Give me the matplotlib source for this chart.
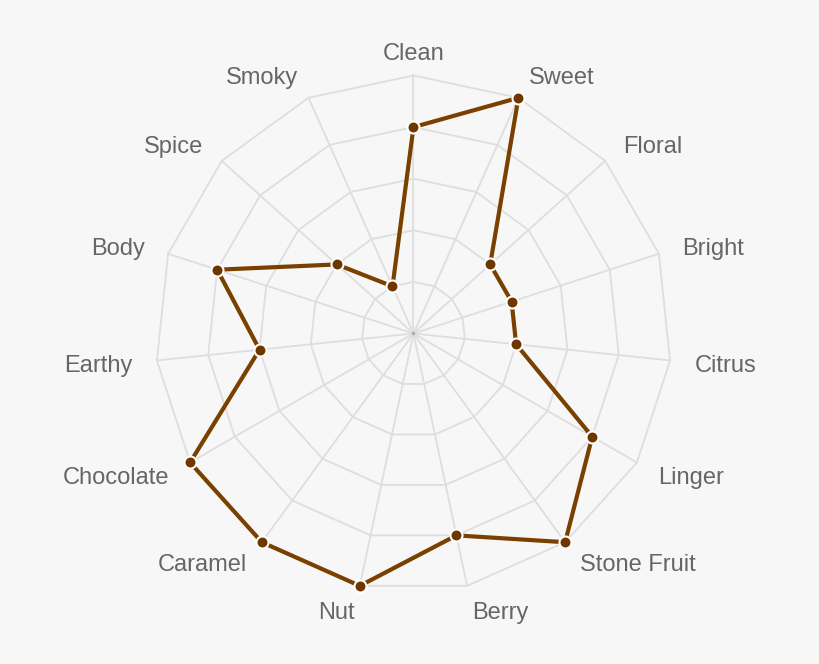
import numpy as np
import matplotlib
matplotlib.use("Agg")
import matplotlib.pyplot as plt
from matplotlib.transforms import offset_copy

categories = ["Clean", "Sweet", "Floral", "Bright", "Citrus", "Linger", "Stone Fruit",
              "Berry", "Nut", "Caramel", "Chocolate", "Earthy", "Body", "Spice", "Smoky"]
values = [4, 5, 2, 2, 2, 4, 5, 4, 5, 5, 5, 3, 4, 2, 1]
levels = [1, 2, 3, 4, 5]

bg = "#f7f7f7"
fig = plt.figure(figsize=(8.2, 6.64), dpi=100, facecolor=bg)
ax = fig.add_axes([0.1896, 0.1092, 0.6293, 0.7771], projection="polar")
ax.set_facecolor(bg)
ax.set_theta_zero_location("N")
ax.set_theta_direction(-1)

n = len(categories)
angles = np.linspace(0, 2 * np.pi, n, endpoint=False)
rmax = max(levels)

# polygon grid
grid_c = "#dedede"
for lv in levels:
    a = np.append(angles, angles[0])
    ax.plot(a, [lv] * (n + 1), color=grid_c, lw=1.3, zorder=1, clip_on=False)
for a in angles:
    ax.plot([a, a], [0, rmax], color=grid_c, lw=1.3, zorder=1, clip_on=False)
ax.scatter([0], [0], s=6, color="#aaaaaa", zorder=2, linewidth=0)

# data
a_closed = np.append(angles, angles[0])
v_closed = values + [values[0]]
ax.plot(a_closed, v_closed, color="#7a4000", lw=3, zorder=3, solid_joinstyle="miter",
        clip_on=False)
ax.scatter(angles, values, s=75, color="#6e3700", edgecolor="white", linewidth=1.5,
           zorder=4, clip_on=False)

# labels
tr = offset_copy(ax.transData, fig=fig, x=0, y=-3, units="dots")
for a, lab in zip(angles, categories):
    s = np.sin(a)
    if abs(s) < 1e-6:
        ha = "center"
    elif s > 0:
        ha = "left"
    else:
        ha = "right"
    ax.text(a, rmax * 1.095, lab, ha=ha, va="center", fontsize=17, transform=tr,
            color="#666666", family=["Liberation Sans", "DejaVu Sans"])

ax.set_ylim(0, rmax)
ax.set_xticks([])
ax.set_yticks([])
ax.grid(False)
ax.spines["polar"].set_visible(False)

fig.savefig("out.png", dpi=100, facecolor=bg)
